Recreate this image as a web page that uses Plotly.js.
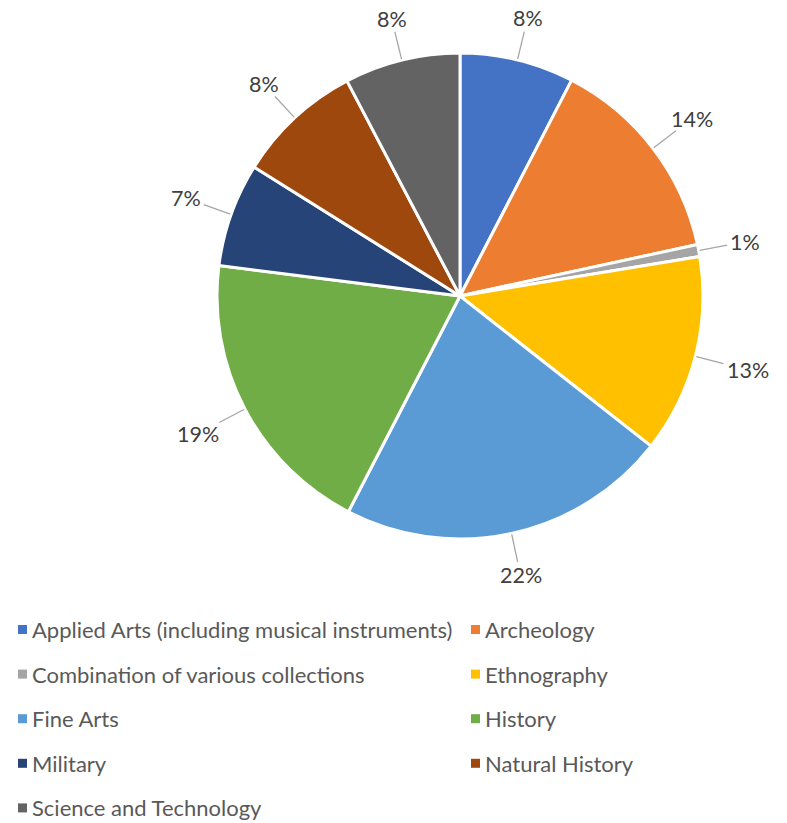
<!DOCTYPE html>
<html>
<head>
<meta charset="utf-8">
<script src="https://cdn.plot.ly/plotly-3.0.1.min.js"></script>
<style>html,body{margin:0;padding:0;background:#fff;}#chart{width:787px;height:823px;}</style>
</head>
<body>
<div id="chart"></div>
<script>
// ---- data ----
const categories = [
  "Applied Arts (including musical instruments)",
  "Archeology",
  "Combination of various collections",
  "Ethnography",
  "Fine Arts",
  "History",
  "Military",
  "Natural History",
  "Science and Technology"
];
const shares = [7.6, 14.0, 0.8, 13.2, 22.0, 19.4, 6.9, 8.4, 7.7];
const colors = ["#4472C4", "#ED7D31", "#A5A5A5", "#FFC000", "#5B9BD5", "#70AD47", "#264478", "#9E480E", "#636363"];

// ---- layout geometry (pixels) ----
const W = 787, H = 823;
const cx = 460, cy = 296, R = 243;
const px = x => x / W;
const py = y => 1 - y / H;

const total = shares.reduce((a, b) => a + b, 0);
const pctText = shares.map(v => Math.round(v / total * 100) + "%");

const annotations = [];
const shapes = [];
const labelFont = {family: "Lato, 'Open Sans', sans-serif", size: 21.5, color: "#404040"};
const legendFont = {family: "Lato, 'Open Sans', sans-serif", size: 22, color: "#595959"};

// data labels with leader lines, positioned from each slice's mid-angle
let cum = 0;
const gap = 33;
shares.forEach((v, i) => {
  const mid = (cum + v / 2) / total * 2 * Math.PI; // clockwise from top
  cum += v;
  const s = Math.sin(mid), c = Math.cos(mid);
  const hw = pctText[i].length * 6.8, hh = 9.5;
  const inset = Math.min(Math.abs(s) > 1e-6 ? hw / Math.abs(s) : 1e9, Math.abs(c) > 1e-6 ? hh / Math.abs(c) : 1e9);
  const rText = R + gap + inset;
  const tx = cx + rText * s, ty = cy - rText * c;
  annotations.push({
    x: px(tx), y: py(ty), xref: "paper", yref: "paper",
    text: pctText[i], showarrow: false, xanchor: "center", yanchor: "middle",
    font: labelFont
  });
  const x0 = cx + (R + 1) * s, y0 = cy - (R + 1) * c;
  const rEnd = R + gap - 4;
  const x1 = cx + rEnd * s, y1 = cy - rEnd * c;
  shapes.push({
    type: "line", xref: "paper", yref: "paper",
    x0: px(x0), y0: py(y0), x1: px(x1), y1: py(y1),
    line: {color: "#A6A6A6", width: 1.3}
  });
});

// legend (two columns) built from categories
const legendRow0 = 629.5, legendRowStep = 44.6;
const colMarkerX = [18, 471];
categories.forEach((name, i) => {
  const row = Math.floor(i / 2), col = i % 2;
  const yC = legendRow0 + row * legendRowStep;
  const mx = colMarkerX[col];
  shapes.push({
    type: "rect", xref: "paper", yref: "paper",
    x0: px(mx), x1: px(mx + 9), y0: py(yC - 4.5), y1: py(yC + 4.5),
    fillcolor: colors[i], line: {width: 0}
  });
  annotations.push({
    x: px(mx + 13), y: py(yC), xref: "paper", yref: "paper",
    text: name, showarrow: false, xanchor: "left", yanchor: "middle",
    borderpad: 0,
    font: legendFont
  });
});

const trace = {
  type: "pie",
  labels: categories,
  values: shares,
  sort: false,
  direction: "clockwise",
  rotation: 0,
  textinfo: "none",
  hoverinfo: "label+percent",
  marker: {colors: colors, line: {color: "#FFFFFF", width: 3}},
  domain: {x: [px(cx - R), px(cx + R)], y: [py(cy + R), py(cy - R)]},
  showlegend: false
};

const layout = {
  width: W, height: H,
  margin: {l: 0, r: 0, t: 0, b: 0},
  paper_bgcolor: "#FFFFFF",
  plot_bgcolor: "#FFFFFF",
  showlegend: false,
  annotations: annotations,
  shapes: shapes,
  font: {family: "Lato, 'Open Sans', sans-serif"}
};

Plotly.newPlot("chart", [trace], layout, {displayModeBar: false, staticPlot: true});
</script>
</body>
</html>
